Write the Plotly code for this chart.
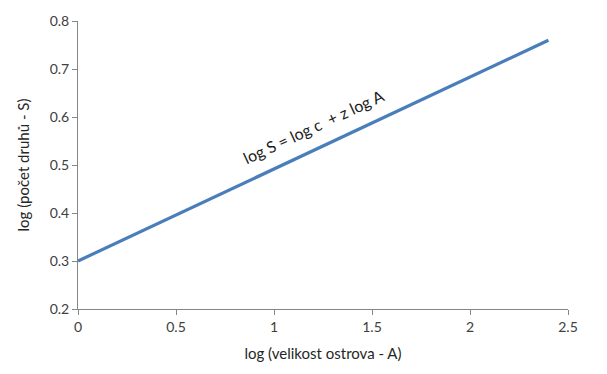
import plotly.graph_objects as go

log_area = [0, 2.4]
log_species = [0.3, 0.76]
x_ticks = [0, 0.5, 1, 1.5, 2, 2.5]
x_tick_labels = ["0", "0.5", "1", "1.5", "2", "2.5"]
y_ticks = [0.2, 0.3, 0.4, 0.5, 0.6, 0.7, 0.8]
y_tick_labels = ["0.2", "0.3", "0.4", "0.5", "0.6", "0.7", "0.8"]
equation = "log S = log c  + z log A"

fig = go.Figure()
fig.add_trace(go.Scatter(x=log_area, y=log_species, mode="lines",
                         line=dict(color="#4a7ebb", width=3.2), showlegend=False,
                         hoverinfo="skip"))

axis_common = dict(showgrid=False, zeroline=False, showline=True, linecolor="#868686",
                   linewidth=1, ticks="outside", ticklen=5, tickcolor="#868686",
                   tickfont=dict(family="Lato", size=14, color="#404040"))

fig.update_xaxes(range=[0, 2.5], tickvals=x_ticks, ticktext=x_tick_labels,
                 title=dict(text="log (velikost ostrova - A)", font=dict(family="Lato", size=15, color="#262626"),
                            standoff=14), **axis_common)
fig.update_yaxes(range=[0.2, 0.8], tickvals=y_ticks, ticktext=y_tick_labels,
                 title=dict(text="log (počet druhů - S)", font=dict(family="Lato", size=15, color="#262626"),
                            standoff=16), **axis_common)

fig.add_annotation(x=1.2, y=0.58, xref="x", yref="y", text=equation, showarrow=False,
                   textangle=-25, font=dict(family="Lato", size=16, color="#1a1a1a"))

fig.update_layout(width=607, height=374, margin=dict(l=78, r=39, t=15, b=65),
                  plot_bgcolor="white", paper_bgcolor="white")

fig.write_html("out.html")
